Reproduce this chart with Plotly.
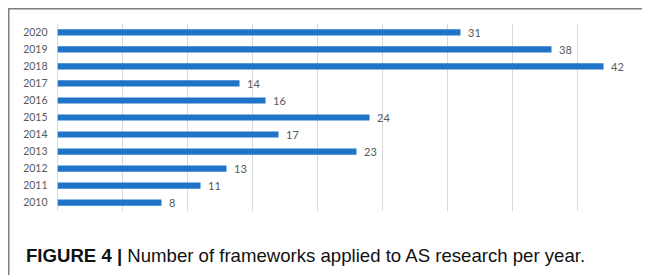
import plotly.graph_objects as go

years = ["2010", "2011", "2012", "2013", "2014", "2015", "2016", "2017", "2018", "2019", "2020"]
counts = [8, 11, 13, 23, 17, 24, 16, 14, 42, 38, 31]
caption_bold = "FIGURE 4 |"
caption_text = "Number of frameworks applied to AS research per year."

# page body has an 8px margin, so the figure starts at (8, 8) of the window
W, H = 642, 267
fig = go.Figure()
fig.add_trace(go.Bar(
    x=counts, y=years, orientation="h",
    marker=dict(color="#1f74c8", line=dict(width=0)),
    width=0.36, hoverinfo="skip",
))
# value labels: category axes take category index positions for annotations
for i, v in enumerate(counts):
    fig.add_annotation(x=v, y=i, xref="x", yref="y", text=str(v),
                       showarrow=False, xanchor="left", yanchor="middle", xshift=5,
                       font=dict(family="Lato, Carlito, sans-serif", size=11, color="#595959"))

fig.add_annotation(x=16/W, y=1-247/H, xref="paper", yref="paper",
                   text=f"<b>{caption_bold}</b> {caption_text}", showarrow=False,
                   xanchor="left", yanchor="middle",
                   font=dict(family="Liberation Sans, Arial, sans-serif", size=18.6, color="#111111"))

line_col = "#7f7f7f"
fig.add_shape(type="line", xref="paper", yref="paper", x0=0.75/W, x1=0.75/W, y0=0, y1=1-0.75/H,
              line=dict(color=line_col, width=1.5))
fig.add_shape(type="line", xref="paper", yref="paper", x0=0, x1=1, y0=1-0.75/H, y1=1-0.75/H,
              line=dict(color=line_col, width=1.5))

fig.update_layout(
    width=W, height=H, margin=dict(l=0, r=0, t=0, b=0),
    paper_bgcolor="white", plot_bgcolor="white", showlegend=False,
    xaxis=dict(domain=[49.5/W, 634.5/W], range=[0, 45], autorange=False, dtick=5,
               showticklabels=False, automargin=False,
               showgrid=True, gridcolor="#d9d9d9", gridwidth=1,
               zeroline=True, zerolinecolor="#d9d9d9", zerolinewidth=1, fixedrange=True),
    yaxis=dict(type="category", categoryorder="array", categoryarray=years,
               range=[-0.5, len(years) - 0.5], autorange=False, automargin=False,
               domain=[1-203.2/H, 1-15.8/H], showgrid=False, zeroline=False,
               tickfont=dict(family="Lato, Carlito, sans-serif", size=10.5, color="#595959"),
               ticks="", ticklabelstandoff=9),
)
fig.write_html("out.html")
